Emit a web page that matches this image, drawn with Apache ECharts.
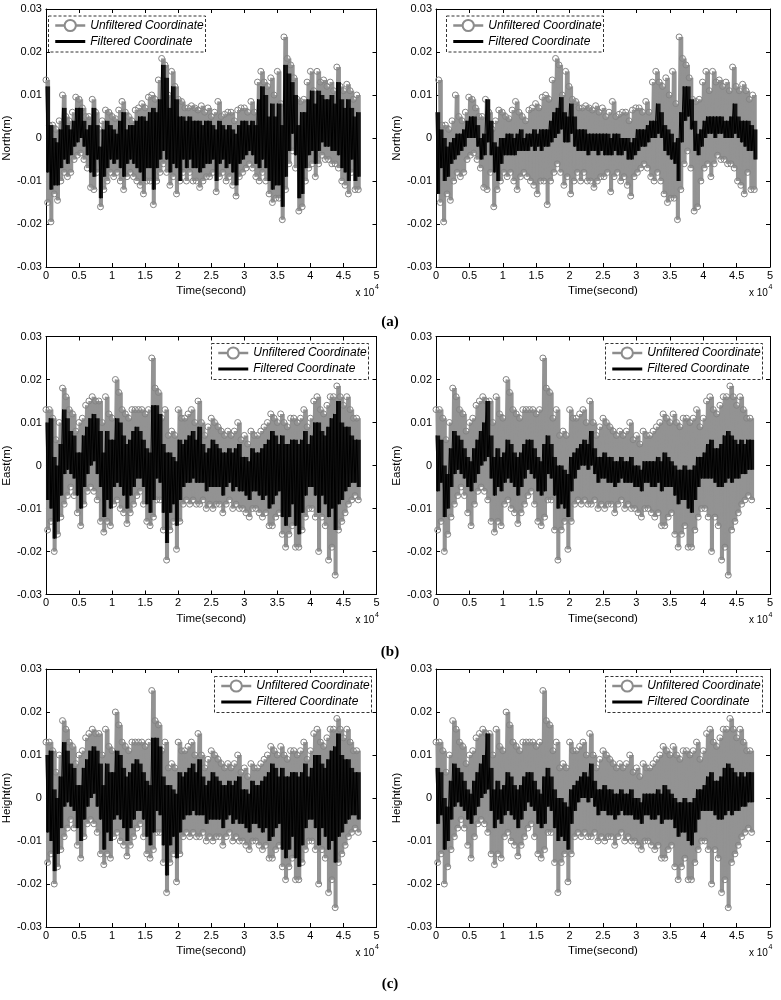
<!DOCTYPE html>
<html>
<head>
<meta charset="utf-8">
<title>Unfiltered vs filtered coordinates</title>
<script src="https://cdn.jsdelivr.net/npm/echarts@6/dist/echarts.min.js"></script>
<style>
  html, body { margin: 0; padding: 0; background: #fff; }
  #chart { width: 781px; height: 1000px; }
</style>
</head>
<body>
<div id="chart"></div>
<script>
// Readings taken every 500 s from t = 0, values in mm.
// "Hi" is the top of the trace in that slot, "Lo" the bottom.
const STEP = 500

const northRawHi = [13.5, 3, 3, 2, 4, 10, 5, 4, 6, 9.5, 9, 7, 5, 5, 9, 6, 2, 4, 6.5, 6,
  5, 4.5, 6.5, 8.5, 6, 5, 4, 6.5, 7, 8, 7, 9.5, 10, 9, 13.5, 18.5, 17, 10, 15.5, 12,
  9, 8.5, 7, 7, 7.5, 7, 6.5, 7.5, 6, 7, 5, 6, 8.5, 5, 5.5, 6, 6, 4, 6.5, 7,
  7, 6, 8.5, 6, 13, 15.5, 13, 12, 14, 10, 15.5, 8, 23.5, 18.5, 17, 14, 9, 8.5, 9, 13,
  15.5, 11, 15.5, 13, 13.5, 12, 13, 11, 16.5, 12, 11, 12.5, 11, 9, 10]
const northRawLo = [-15, -19.5, -13, -14.5, -10, -8, -9, -8, -5, -4, -3.5, -5, -7, -11.5, -12, -8, -16, -12, -10, -8,
  -9, -8, -10, -12, -9, -8, -9, -10, -11, -13, -10, -10, -15.5, -10, -8, -6, -8, -11, -9, -13,
  -10, -8, -10, -8, -10, -10, -11.5, -10, -9, -9, -8, -12.5, -9, -8, -10, -9, -11, -13.5, -9, -8,
  -7, -6, -7, -9, -10, -8, -10, -13, -15, -14, -14, -19, -12, -6, -3, -7, -17, -16, -10, -7,
  -6, -9, -6, -4, -5, -5, -6, -6, -7, -10, -11, -13, -8, -12, -12]

const northFiltLHi = [12, 3, 0, -1, 2, 7, 3, 2, 4, 7, 7, 4, 2, 3, 7, 3, -2, 2, 4, 3,
  2, 1, 4, 6, 2, 3, 3, 4, 5, 5, 4, 6, 7, 6, 9, 17, 14, 7, 12, 9,
  5, 5, 4, 5, 4, 4, 4, 3, 4, 4, 3, 2, 4, 3, 2, 3, 2, 1, 3, 4,
  4, 3, 4, 3, 9, 12, 10, 5, 8, 5, 8, 3, 17, 15, 13, 10, 3, 6, 6, 9,
  11, 8, 11, 10, 9, 9, 10, 8, 13, 9, 7, 9, 7, 5, 6]
const northFiltLLo = [-8, -12, -11, -11, -7, -5, -6, -4, -2, -1, 0, -2, -4, -8, -9, -5, -14, -9, -7, -5,
  -6, -5, -7, -9, -6, -5, -6, -7, -8, -10, -7, -7, -12, -7, -5, -3, -5, -8, -6, -7,
  -10, -5, -7, -5, -7, -7, -8, -7, -6, -6, -5, -10, -6, -5, -7, -6, -8, -11, -6, -5,
  -4, -3, -4, -6, -7, -5, -7, -10, -12, -11, -11, -16, -9, -3, 1, -4, -14, -13, -7, -4,
  -3, -6, -3, -1, -2, -2, -3, -3, -4, -7, -8, -10, -5, -10, -9]

const northFiltRHi = [6, 2, 0, -2, -1, 0, 1, 1, 2, 4, 5, 5, 3, 0, 1, 9, 4, -1, -2, 0,
  0, 1, 1, 0, 1, 2, 0, 1, 1, 2, 1, 2, 2, 2, 4, 6, 7, 9.5, 6, 5,
  8, 5, 2, 2, 2, 1, 1, 1, 1, 1, 1, 1, 0, 1, 1, 0, 0, 0, -1, 0,
  2, 2, 2, 3, 4, 4, 8, 6, 3, 2, 1, -1, 0, 6, 12, 12, 9, 4, 1, 2,
  4, 5, 5, 5, 5, 5, 4, 4, 5, 8, 5, 4, 4, 4, 3, 2]
const northFiltRLo = [-13, -7, -10, -9, -6, -5, -4, -3, -2, 0, 0, 0, -2, -5, -4, -1, -4, -8, -10, -6,
  -4, -4, -4, -4, -3, -3, -3, -3, -2, -3, -2, -3, -2, -2, -1, 0, 1, 2, -1, -1,
  1, -2, -3, -3, -3, -4, -3, -3, -4, -3, -4, -4, -4, -3, -4, -4, -3, -5, -5, -4,
  -3, -2, -2, -1, 0, 0, 1, 0, -3, -4, -5, -6, -10, -1, 4, 5, 2, -3, -4, -2,
  0, 1, 1, 0, 1, 1, 0, 0, 0, 1, 0, -1, -2, -3, -3, -5]

const eastRawHi = [13, 13, 11, 6, 10, 18, 16, 13, 12, 8, 10, 11, 14, 15, 16, 15, 15, 10, 16, 12,
  11, 20, 17, 13, 12, 11, 13, 13, 13, 13, 12, 13, 25, 18, 17, 11, 13, 7, 8, 7,
  13, 11, 11, 12, 13, 10, 15, 10, 7, 9, 11, 10, 9, 8, 7, 8, 7, 8, 10, 6,
  7, 5, 8, 7, 7, 8, 9, 10, 12, 11, 10, 12, 10, 9, 11, 11, 10, 11, 13, 9,
  11, 15, 16, 13, 12, 14, 16, 16, 18.5, 16, 14, 16, 13, 11, 11]
const eastRawLo = [-15, -13, -20, -16, -12, -9, -7, -5, -7, -11, -14, -9, -6, -5, -6, -8, -13, -15.5, -13, -14,
  -9, -8, -10, -11, -13.5, -11, -9, -7, -6, -9, -13, -14, -12, -8, -8, -15, -22, -15, -13, -19.5,
  -13, -9, -8, -9, -8, -9, -9, -8, -10, -9, -10, -9, -9, -11, -9, -8, -10, -9, -10, -10,
  -11, -12, -10, -10, -11, -12, -11, -14, -14, -12, -11, -16, -19, -16, -14, -19, -19, -15, -12, -10,
  -10, -12, -20, -12, -14, -22, -19, -25.5, -15, -13, -11, -9, -8, -7, -8]

const eastFiltLHi = [10, 11, 2, 0, 5, 13, 11, 8, 7, 3, 3, 7, 9, 11, 12, 11, 8, 3, 8, 6,
  6, 11, 10, 7, 5, 6, 8, 9, 8, 6, 4, 3, 14, 14, 12, 5, 3, 3, 2, 1,
  6, 5, 6, 7, 8, 6, 9, 5, 3, 4, 6, 5, 4, 3, 3, 4, 3, 4, 5, 2,
  2, 1, 4, 3, 3, 4, 5, 6, 8, 7, 5, 7, 5, 5, 6, 6, 5, 6, 8, 5,
  7, 10, 10, 8, 7, 9, 11, 12, 15, 10, 9, 9, 7, 6, 6]
const eastFiltLLo = [-8, -10, -17, -13, -7, -2, -1, -2, -3, -7, -10, -5, -2, 0, 1, -2, -5, -12, -8, -10,
  -5, -4, -5, -7, -10, -7, -5, -3, -3, -5, -9, -11, -8, -3, -4, -11, -18, -11, -9, -14,
  -8, -5, -4, -4, -3, -4, -4, -4, -6, -5, -5, -5, -5, -7, -5, -4, -6, -5, -6, -6,
  -7, -8, -6, -6, -7, -8, -7, -10, -9, -7, -6, -12, -14, -12, -9, -14, -16, -11, -7, -5,
  -5, -7, -11, -7, -9, -12, -10, -15, -9, -8, -6, -5, -4, -4, -5]

const eastFiltRHi = [7, 6, 0, -2, 4, 8, 7, 6, 4, 2, 1, 4, 6, 8, 10, 15, 7, 2, 4, 2,
  3, 6, 5, 3, 2, 3, 5, 6, 6, 4, 2, 1, 5, 7, 5, 2, 0, 0, -1, -2,
  2, 3, 4, 5, 6, 5, 8, 4, 2, 2, 3, 2, 2, 1, 1, 2, 1, 1, 2, 0,
  0, -1, 1, 1, 1, 1, 2, 1, 3, 2, 1, 0, -1, -1, 0, -1, -1, 0, 2, 2,
  3, 5, 6, 4, 4, 5, 7, 8, 7, 6, 5, 6, 5, 6, 6]
const eastFiltRLo = [-6, -4, -12, -10, -5, -2, -1, -2, -3, -5, -6, -4, -2, 0, 1, 2, -3, -7, -5, -6,
  -4, -3, -4, -5, -7, -5, -3, -1, -2, -3, -6, -7, -6, -2, -3, -7, -10, -9, -10, -12,
  -6, -3, -1, 0, 0, -1, 0, -2, -4, -3, -3, -4, -4, -5, -4, -3, -4, -4, -4, -5,
  -5, -6, -4, -4, -5, -5, -4, -6, -5, -5, -5, -7, -9, -8, -8, -10, -11, -8, -5, -3,
  -3, -3, -3, -4, -5, -5, -4, -3, -4, -3, -3, -2, -2, -1, -1]

// the Height panels show the same traces as the East panels
const heightRawHi = eastRawHi
const heightRawLo = eastRawLo
const heightFiltLHi = eastFiltLHi
const heightFiltLLo = eastFiltLLo
const heightFiltRHi = eastFiltRHi
const heightFiltRLo = eastFiltRLo

const xTickLabels = ['0', '0.5', '1', '1.5', '2', '2.5', '3', '3.5', '4', '4.5', '5']
const yTickLabels = ['-0.03', '-0.02', '-0.01', '0', '0.01', '0.02', '0.03']
const panelLabels = ['(a)', '(b)', '(c)']

const FONT = '"Liberation Sans", Arial, sans-serif'
const GREY = '#8c8c8c'
const UNF = 'Unfiltered Coordinate'
const FIL = 'Filtered Coordinate'

// grid: [left, top, width, height], box: legend box [left, top]
const panels = [
  { yName: 'North(m)', raw: [northRawHi, northRawLo], shift: 0, filt: [northFiltLHi, northFiltLLo], grid: [41.5, 9, 335, 258], box: [48, 15.5] },
  { yName: 'North(m)', raw: [northRawHi, northRawLo], shift: 400, filt: [northFiltRHi, northFiltRLo], grid: [436, 9, 334, 258], box: [446, 15.5] },
  { yName: 'East(m)', raw: [eastRawHi, eastRawLo], shift: 0, filt: [eastFiltLHi, eastFiltLLo], grid: [41.5, 336.5, 335, 258], box: [211, 343] },
  { yName: 'East(m)', raw: [eastRawHi, eastRawLo], shift: 0, filt: [eastFiltRHi, eastFiltRLo], grid: [436, 336.5, 334, 258], box: [605, 343] },
  { yName: 'Height(m)', raw: [heightRawHi, heightRawLo], shift: 0, filt: [heightFiltLHi, heightFiltLLo], grid: [41.5, 669, 335, 258], box: [214, 676] },
  { yName: 'Height(m)', raw: [heightRawHi, heightRawLo], shift: 0, filt: [heightFiltRHi, heightFiltRLo], grid: [436, 669, 334, 258], box: [605, 676] }
]

// top of the slot first, bottom half a slot later
function zigzag(hi, lo, shift) {
  const pts = []
  for (let i = 0; i < hi.length; i++) {
    pts.push([shift + i * STEP, hi[i]])
    pts.push([shift + i * STEP + STEP / 2, lo[i]])
  }
  return pts
}

// one [start, lo, hi] row per slot, drawn as a filled column
function slots(hi, lo, shift) {
  return hi.map((h, i) => [shift + i * STEP, lo[i], h])
}

function bandSeries(name, k, data, fill, z) {
  return {
    name, type: 'custom', xAxisIndex: 2 * k, yAxisIndex: 2 * k,
    data, encode: { x: 0, y: [1, 2] }, silent: true, animation: false, z, clip: true,
    renderItem: (params, api) => {
      const a = api.coord([api.value(0), api.value(2)])
      const b = api.coord([api.value(0) + STEP, api.value(1)])
      return {
        type: 'rect',
        shape: { x: a[0], y: a[1], width: b[0] - a[0] + 0.8, height: b[1] - a[1] },
        style: { fill }
      }
    }
  }
}

const grids = []
const xAxes = []
const yAxes = []
const series = []
const legends = []
const graphics = []

const tickStyle = { inside: true, length: 4, lineStyle: { color: '#000', width: 1 } }
const lineStyle = { lineStyle: { color: '#000', width: 1 } }

panels.forEach((p, k) => {
  const [left, top, width, height] = p.grid
  grids.push({ left, top, width, height, containLabel: false })

  const xBase = {
    type: 'value', gridIndex: k, min: 0, max: 50000, interval: 5000,
    axisLine: { onZero: false, ...lineStyle }, axisTick: tickStyle, splitLine: { show: false }
  }
  xAxes.push({
    ...xBase, position: 'bottom',
    axisLabel: {
      color: '#000', fontSize: 11, fontFamily: FONT, margin: 3,
      formatter: v => xTickLabels[Math.round(v / 5000)]
    },
    name: 'Time(second)', nameLocation: 'middle', nameGap: 18,
    nameTextStyle: { color: '#000', fontSize: 11.5, fontFamily: FONT }
  })
  xAxes.push({ ...xBase, position: 'top', axisLabel: { show: false } })

  const yBase = {
    type: 'value', gridIndex: k, min: -30, max: 30, interval: 10,
    axisLine: { onZero: false, ...lineStyle }, axisTick: tickStyle, splitLine: { show: false }
  }
  yAxes.push({
    ...yBase, position: 'left',
    axisLabel: {
      color: '#000', fontSize: 11, fontFamily: FONT, margin: 4,
      formatter: v => yTickLabels[Math.round((v + 30) / 10)]
    },
    name: p.yName, nameLocation: 'middle', nameGap: 23,
    nameTextStyle: { color: '#000', fontSize: 11.5, fontFamily: FONT }
  })
  yAxes.push({ ...yBase, position: 'right', axisLabel: { show: false } })

  series.push(bandSeries('unfiltered band', k, slots(p.raw[0], p.raw[1], p.shift), '#939393', 1))
  series.push({
    name: UNF, type: 'line', xAxisIndex: 2 * k, yAxisIndex: 2 * k,
    data: zigzag(p.raw[0], p.raw[1], p.shift),
    symbol: 'circle', symbolSize: 6, showSymbol: true, showAllSymbol: true,
    itemStyle: { color: 'rgba(255,255,255,0)', borderColor: '#858585', borderWidth: 1 },
    lineStyle: { color: '#939393', width: 1.2 },
    silent: true, animation: false, z: 2
  })
  series.push(bandSeries('filtered band', k, slots(p.filt[0], p.filt[1], 0), '#141414', 3))
  series.push({
    name: FIL, type: 'line', xAxisIndex: 2 * k, yAxisIndex: 2 * k,
    data: zigzag(p.filt[0], p.filt[1], 0),
    symbol: 'none',
    itemStyle: { color: '#000' },
    lineStyle: { color: '#000', width: 1 },
    silent: true, animation: false, z: 4
  })

  const [bx, by] = p.box
  graphics.push({
    type: 'rect', z: 5,
    shape: { x: bx + 0.5, y: by + 0.5, width: 157, height: 36 },
    style: { fill: '#fff', stroke: '#333', lineWidth: 1, lineDash: [3, 2] }
  })
  legends.push({
    orient: 'vertical', left: bx + 6, top: by + 3, padding: 0,
    itemWidth: 30, itemHeight: 14, itemGap: 2, selectedMode: false, z: 10,
    textStyle: { color: '#000', fontSize: 12, fontStyle: 'italic', fontFamily: FONT, lineHeight: 14 },
    data: [
      { name: UNF, itemStyle: { color: '#fff', borderColor: GREY, borderWidth: 2 }, lineStyle: { color: GREY, width: 2.5 } },
      { name: FIL, icon: 'path://M0,0 L30,0 L30,3 L0,3 Z', itemStyle: { color: '#000' } }
    ]
  })

  // "x 10^4" scale note under the right end of the time axis
  const noteY = top + height + 27
  graphics.push({
    type: 'text', left: left + width - 21, top: noteY - 6,
    style: { text: 'x 10', fontSize: 10, fontFamily: FONT, fill: '#000' }
  })
  graphics.push({
    type: 'text', left: left + width - 1.5, top: noteY - 10,
    style: { text: '4', fontSize: 7, fontFamily: FONT, fill: '#000' }
  })
})

// panel captions
const captionY = [322, 652, 984]
panelLabels.forEach((t, i) => {
  graphics.push({
    type: 'text', x: 390, y: captionY[i],
    style: { text: t, fontSize: 15, fontWeight: 'bold', fontFamily: '"Liberation Serif", "Times New Roman", serif', fill: '#000', align: 'center', verticalAlign: 'middle' }
  })
})

const chart = echarts.init(document.getElementById('chart'), null, { renderer: 'canvas' })
chart.setOption({
  backgroundColor: '#fff',
  animation: false,
  grid: grids,
  xAxis: xAxes,
  yAxis: yAxes,
  legend: legends,
  series,
  graphic: graphics
})
</script>
</body>
</html>
